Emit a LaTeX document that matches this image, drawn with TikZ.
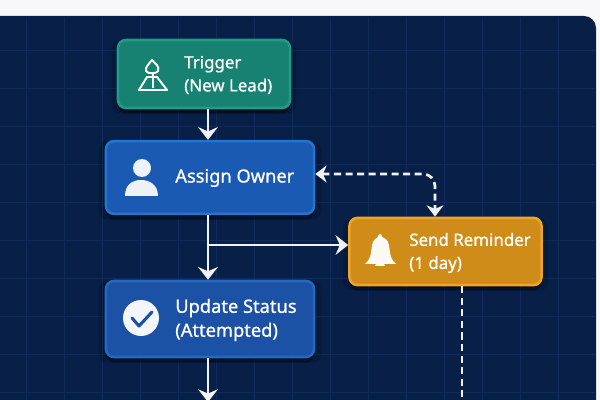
\documentclass[tikz,border=0pt]{standalone}
\usepackage{fontspec}
\setmainfont{Noto Sans}[FakeBold=0.9]
\usetikzlibrary{positioning, arrows.meta, shadows}
\definecolor{PageWhite}{RGB}{248,248,250}
\definecolor{PanelNavy}{RGB}{8,31,72}
\definecolor{GridBlue}{RGB}{16,43,90}
\definecolor{LineWhite}{RGB}{240,242,248}
\definecolor{TrigFill}{RGB}{24,130,114}
\definecolor{TrigEdge}{RGB}{36,154,134}
\definecolor{OwnerFill}{RGB}{26,90,178}
\definecolor{OwnerEdge}{RGB}{38,116,206}
\definecolor{StatusFill}{RGB}{28,82,166}
\definecolor{StatusEdge}{RGB}{38,104,190}
\definecolor{RemindFill}{RGB}{208,140,24}
\definecolor{RemindEdge}{RGB}{238,166,38}

\begin{document}
\begin{tikzpicture}[
          x=0.025cm, y=-0.025cm,
          stepbox/.style={rectangle, rounded corners=0.2cm, line width=1.8pt,
                     general shadow={shadow xshift=0pt, shadow yshift=-2pt, shadow scale=1.07, fill=black, opacity=.16},
                     general shadow={shadow xshift=0pt, shadow yshift=-4pt, fill=black, opacity=.35}},
          steptext/.style={anchor=west, align=left, text=white, inner sep=0pt, font=\fontsize{12}{16.4}\selectfont},
          bigtext/.style={steptext, font=\fontsize{13}{17}\selectfont},
          arr/.style={-{Stealth[length=9pt, width=14pt, inset=3pt]}, draw=LineWhite, line width=2.1pt},
          dasharr/.style={draw=LineWhite, line width=1.9pt, dash pattern=on 5pt off 3.2pt},
          dashtip/.style={{Stealth[length=8pt, width=12pt, inset=2.5pt]}-{Stealth[length=8pt, width=12pt, inset=2.5pt]}}
        ]
        \useasboundingbox (0,0) rectangle (600,400);

        % Page and panel
        \fill[PageWhite] (0,0) rectangle (600,400);
        \fill[PanelNavy, rounded corners=0.3cm] (-20,16) -- (596,16) -- (596,420) -- (-20,420) -- cycle;
        \foreach \gx in {26,64,...,590} {
          \draw[GridBlue, line width=0.3pt] (\gx,17) -- (\gx,400);
        }
        \foreach \gy in {50,88,...,400} {
          \draw[GridBlue, line width=0.3pt] (0,\gy) -- (595,\gy);
        }

        % Steps
        \node[stepbox, fill=TrigFill, draw=TrigEdge, minimum width=4.3cm, minimum height=1.7cm]
              (trigger) at (204, 74) {};
        \node[stepbox, fill=OwnerFill, draw=OwnerEdge, minimum width=5.2cm, minimum height=1.82cm]
              (owner) at (210, 177.5) {};
        \node[stepbox, fill=StatusFill, draw=StatusEdge, minimum width=5.2cm, minimum height=1.9cm]
              (status) at (210, 319) {};
        \node[stepbox, fill=RemindFill, draw=RemindEdge, minimum width=4.8cm, minimum height=1.68cm]
              (remind) at (445.5, 251.5) {};

        % Labels
        \node[steptext] (triggertext) at (184, 75) {Trigger\\(New Lead)};
        \node[bigtext]  (ownertext)   at (175, 178) {Assign Owner};
        \node[bigtext]  (statustext)  at (175, 320) {Update Status\\(Attempted)};
        \node[steptext] (remindtext)  at (409, 253) {Send Reminder\\(1 day)};

        % Icons
        \draw[white, line width=1.4pt, line join=round]
              (139,90) -- (147,77) -- (157,77) -- (167,90) -- cycle
              (152,60) .. controls (155,64) and (160,66) .. (158,71)
              .. controls (157,74) and (147,74) .. (146,71)
              .. controls (145,67) and (149,64) .. (152,60) -- cycle
              (153,73) -- (153,88);
        \fill[white!92!OwnerFill] (142,168) circle (9);
        \fill[white!92!OwnerFill] (125,196) .. controls (125,185) and (132,180) .. (141,180)
              .. controls (150,180) and (158,185) .. (158,196) -- cycle;
        \fill[white!95!StatusFill] (141,318) circle (18);
        \draw[StatusFill, line width=2.2pt, line cap=round, line join=round]
              (132,318) -- (139,326) -- (152,312);
        \fill[white!96!RemindFill] (365,264) .. controls (372,258) and (371,250) .. (372,245)
              .. controls (373,239) and (377,238) .. (378,237)
              .. controls (378,233) and (382,233) .. (382,237)
              .. controls (384,238) and (388,239) .. (389,245)
              .. controls (390,250) and (389,258) .. (396,264) -- cycle;
        \fill[white!96!RemindFill] (375,266) arc[start angle=180, end angle=360, radius=5] -- cycle;

        % Connectors
        \coordinate (stem) at (208, 130);
        \coordinate (branch) at (208, 245);
        \coordinate (dashturn) at (435, 174);
        \coordinate (bottomend) at (208, 402);
        \coordinate (dashend) at (462, 400);
        \draw[arr] (stem |- trigger.south) -- (stem |- owner.north);
        \draw[arr] (stem |- owner.south) -- (stem |- status.north);
        \draw[arr] (branch) -- (branch -| remind.west);
        \draw[arr] (stem |- status.south) -- (bottomend);
        \draw[dasharr, dashtip, rounded corners=0.3cm]
              (owner.east |- dashturn) -- (dashturn) -- (dashturn |- remind.north);
        \draw[dasharr] (dashend |- remind.south) -- (dashend);
      \end{tikzpicture}
\end{document}
